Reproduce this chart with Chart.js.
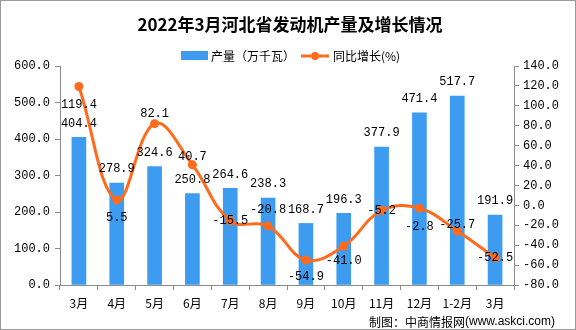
<!DOCTYPE html>
<html>
<head>
<meta charset="utf-8">
<style>
  html, body { margin: 0; padding: 0; background: #fff; }
  #wrap { width: 576px; height: 330px; }
</style>
<script src="https://cdn.jsdelivr.net/npm/chart.js@4/dist/chart.umd.min.js"></script>
</head>
<body>
<div id="wrap"><canvas id="chart" width="576" height="330"></canvas></div>
<script>
// Monthly engine output (10k kW) and year-on-year growth (%)
const months = ['3月', '4月', '5月', '6月', '7月', '8月', '9月', '10月', '11月', '12月', '1-2月', '3月'];
const output = [404.4, 278.9, 324.6, 250.8, 264.6, 238.3, 168.7, 196.3, 377.9, 471.4, 517.7, 191.9];
const growth = [119.4, 5.5, 82.1, 40.7, -15.5, -20.8, -54.9, -41.0, -5.2, -2.8, -25.7, -52.5];

const BAR_COLOR = '#3d9cf0';
const LINE_COLOR = '#ff6a1c';
const AXIS_COLOR = '#8c8c8c';
const MONO = '"Liberation Mono", "DejaVu Sans Mono", monospace';
const CJK = '"Noto Sans CJK SC", sans-serif';

// vertical nudge for each growth label so they don't sit on the curve
const growthLabelDy = [18, 18, -10, -8, 0, -16, 17, 15, 0, 19, -6, 0];

// frame, title, legend and footer
const decorations = {
    id: 'decorations',
    beforeDraw(chart) {
        const ctx = chart.ctx;
        ctx.save();
        ctx.fillStyle = '#fff';
        ctx.fillRect(0, 0, chart.width, chart.height);
        ctx.restore();
    },
    afterDraw(chart) {
        const ctx = chart.ctx;
        ctx.save();
        ctx.strokeStyle = '#9a9a9a';
        ctx.lineWidth = 1;
        ctx.strokeRect(0.5, 0.5, chart.width - 1, chart.height - 1);

        ctx.fillStyle = '#000';
        ctx.textBaseline = 'middle';
        ctx.textAlign = 'center';
        ctx.font = 'bold 17px ' + CJK;
        ctx.fillText('2022年3月河北省发动机产量及增长情况', 290, 25);

        // legend
        ctx.textAlign = 'left';
        ctx.font = '12px ' + CJK;
        ctx.fillStyle = BAR_COLOR;
        ctx.fillRect(181, 51, 27, 9);
        ctx.fillStyle = '#000';
        ctx.fillText('产量（万千瓦）', 211, 56);
        ctx.strokeStyle = LINE_COLOR;
        ctx.lineWidth = 3;
        ctx.beginPath();
        ctx.moveTo(301, 56);
        ctx.lineTo(329, 56);
        ctx.stroke();
        ctx.fillStyle = LINE_COLOR;
        ctx.beginPath();
        ctx.arc(315, 56, 4, 0, Math.PI * 2);
        ctx.fill();
        ctx.fillStyle = '#000';
        ctx.fillText('同比增长(%)', 333, 56);

        // footer
        ctx.font = '12px ' + CJK;
        const src = '制图：中商情报网';
        ctx.fillText(src, 369, 322);
        const w = ctx.measureText(src).width;
        ctx.font = '12px "Liberation Sans", sans-serif';
        ctx.fillText('(www.askci.com)', 369 + w, 322);
        ctx.restore();
    }
};

// value labels over bars and around line points
const valueLabels = {
    id: 'valueLabels',
    afterDatasetsDraw(chart) {
        const ctx = chart.ctx;
        ctx.save();
        ctx.fillStyle = '#000';
        ctx.font = '12px ' + MONO;
        ctx.textAlign = 'center';
        ctx.textBaseline = 'middle';
        chart.getDatasetMeta(1).data.forEach((bar, i) => {
            ctx.fillText(output[i].toFixed(1), bar.x, bar.y - 14);
        });
        chart.getDatasetMeta(0).data.forEach((pt, i) => {
            ctx.fillText(growth[i].toFixed(1), pt.x, pt.y + growthLabelDy[i]);
        });
        ctx.restore();
    }
};

const axisBase = {
    grid: { drawOnChartArea: false, drawTicks: true, tickLength: 5, color: AXIS_COLOR },
    border: { color: AXIS_COLOR }
};

new Chart(document.getElementById('chart'), {
    type: 'bar',
    data: {
        labels: months,
        datasets: [{
            type: 'line',
            label: '同比增长(%)',
            data: growth,
            yAxisID: 'y1',
            borderColor: LINE_COLOR,
            backgroundColor: LINE_COLOR,
            borderWidth: 3,
            pointRadius: 4.5,
            pointBackgroundColor: LINE_COLOR,
            pointBorderWidth: 0,
            tension: 0.4,
            order: 0
        }, {
            label: '产量（万千瓦）',
            data: output,
            yAxisID: 'y',
            backgroundColor: BAR_COLOR,
            barThickness: 14,
            order: 1
        }]
    },
    options: {
        responsive: false,
        animation: false,
        layout: { padding: { top: 66, left: 0, right: 0, bottom: 0 } },
        plugins: {
            legend: { display: false },
            title: { display: false },
            tooltip: { enabled: false }
        },
        scales: {
            x: {
                ...axisBase,
                offset: true,
                afterFit(scale) { scale.height = 45; },
                ticks: { color: '#000', padding: 6, font: { family: CJK, size: 12 } }
            },
            y: {
                ...axisBase,
                position: 'left',
                min: 0,
                max: 600,
                afterFit(scale) { scale.width = 60; },
                ticks: {
                    stepSize: 100,
                    padding: 5,
                    color: '#000',
                    font: { family: MONO, size: 12 },
                    callback: v => v.toFixed(1)
                }
            },
            y1: {
                ...axisBase,
                position: 'right',
                min: -80,
                max: 140,
                afterFit(scale) { scale.width = 62; },
                ticks: {
                    stepSize: 20,
                    padding: 4,
                    color: '#000',
                    font: { family: MONO, size: 12 },
                    callback: v => v.toFixed(1)
                }
            }
        }
    },
    plugins: [decorations, valueLabels]
});
</script>
</body>
</html>
